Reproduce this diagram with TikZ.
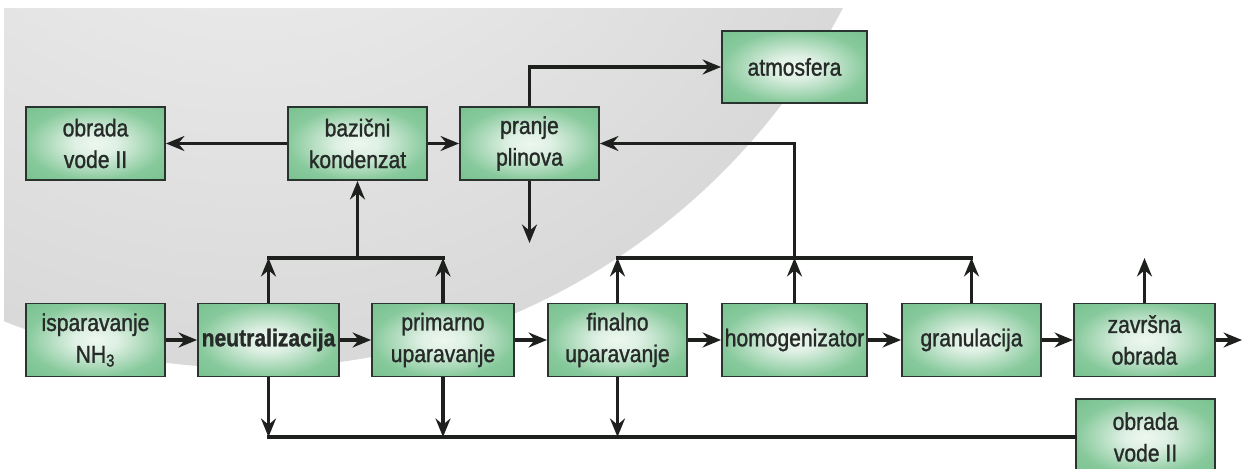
\documentclass[tikz,border=0pt]{standalone}
\usepackage{fontspec}
\setmainfont{Liberation Sans}[FakeStretch=0.87, FakeBold=1.2]
\usepackage{tikz}
\usetikzlibrary{arrows.meta}
\definecolor{unitedge}{RGB}{40,52,45}
\definecolor{labelgray}{RGB}{38,42,40}
\definecolor{flowblack}{RGB}{30,32,30}
\pgfdeclareradialshading{unitshade}{\pgfpoint{0bp}{0bp}}{%
  rgb(0bp)=(0.93,0.97,0.94); rgb(8bp)=(0.87,0.94,0.89);
  rgb(25bp)=(0.53,0.79,0.61); rgb(50bp)=(0.40,0.72,0.50)}

\tikzset{
  unit/.style={draw=unitedge, line width=1.1pt, shading=unitshade,
    minimum width=2.78cm, minimum height=1.46cm, align=center, text=labelgray, inner sep=1pt,
    font=\fontsize{13.8}{18}\selectfont},
  flow/.style={->, line width=1.8pt, draw=flowblack},
  bus/.style={line width=1.8pt, draw=flowblack, line cap=rect},
}

\begin{document}
\begin{tikzpicture}[x=0.02cm, y=-0.02cm, >={Stealth[length=10.5pt, width=8.5pt, inset=3.5pt]}]
  \useasboundingbox (0,0) rectangle (1243,469);

  % Grey disc behind the upper left part
  \begin{scope}
    \clip (4,9) rectangle (1243,469);
    \shade[inner color=gray!8, outer color=gray!30] (250,-300) circle[radius=668];
  \end{scope}

  % Upper row
  \node[unit] (obradaA) at (95.5,143.5) {obrada\\vode II};
  \node[unit] (bazicni) at (357.5,143.5) {bazični\\kondenzat};
  \node[unit] (pranje) at (529.5,143.5) {pranje\\plinova};
  \node[unit, minimum width=2.9cm, minimum height=1.44cm] (atmosfera) at (794.5,67) {atmosfera};

  % Lower row
  \node[unit] (isparavanje) at (95.5,340) {isparavanje\\NH\textsubscript{3}};
  \node[unit, minimum width=2.82cm] (neutralizacija) at (268.5,340) {\bfseries neutralizacija};
  \node[unit, minimum width=2.84cm] (primarno) at (443,340) {primarno\\uparavanje};
  \node[unit] (finalno) at (617.5,340) {finalno\\uparavanje};
  \node[unit, minimum width=2.9cm] (homogenizator) at (794.5,340) {homogenizator};
  \node[unit] (granulacija) at (971.5,340) {granulacija};
  \node[unit, minimum width=2.82cm] (zavrsna) at (1144.5,340) {završna\\obrada};
  \node[unit, minimum height=1.52cm] (obradaB) at (1145.5,437) {obrada\\vode II};

  % Bus levels and free ends
  \coordinate (upper) at (0,258);
  \coordinate (lower) at (0,437);
  \coordinate (drain) at (529.5,243);
  \coordinate (product) at (1242,340);

  % Main flow
  \draw[flow] (isparavanje) -- (neutralizacija);
  \draw[flow] (neutralizacija) -- (primarno);
  \draw[flow] (primarno) -- (finalno);
  \draw[flow] (finalno) -- (homogenizator);
  \draw[flow] (homogenizator) -- (granulacija);
  \draw[flow] (granulacija) -- (zavrsna);
  \draw[flow] (zavrsna) -- (product);

  % Vapours to basic condensate
  \draw[flow] (neutralizacija.north) -- (neutralizacija.north |- upper);
  \draw[flow] (primarno.north) -- (primarno.north |- upper);
  \draw[bus] (neutralizacija.north |- upper) -- (primarno.north |- upper);
  \draw[flow] (bazicni.south |- upper) -- (bazicni.south);
  \draw[flow] (bazicni) -- (obradaA);
  \draw[flow] (bazicni) -- (pranje);

  % Air to gas washing
  \draw[flow] (finalno.north) -- (finalno.north |- upper);
  \draw[flow] (homogenizator.north) -- (homogenizator.north |- upper);
  \draw[flow] (granulacija.north) -- (granulacija.north |- upper);
  \draw[bus] (finalno.north |- upper) -- (granulacija.north |- upper);
  \draw[flow] (homogenizator.north |- upper) |- (pranje.east);
  \draw[flow] (pranje.north) |- (atmosfera.west);
  \draw[flow] (pranje.south) -- (drain);
  \draw[flow] (zavrsna.north) -- (zavrsna.north |- upper);

  % Condensate collection
  \draw[flow] (neutralizacija.south) -- (neutralizacija.south |- lower);
  \draw[flow] (primarno.south) -- (primarno.south |- lower);
  \draw[flow] (finalno.south) -- (finalno.south |- lower);
  \draw[bus] (neutralizacija.south |- lower) -- (obradaB.west);
\end{tikzpicture}
\end{document}
